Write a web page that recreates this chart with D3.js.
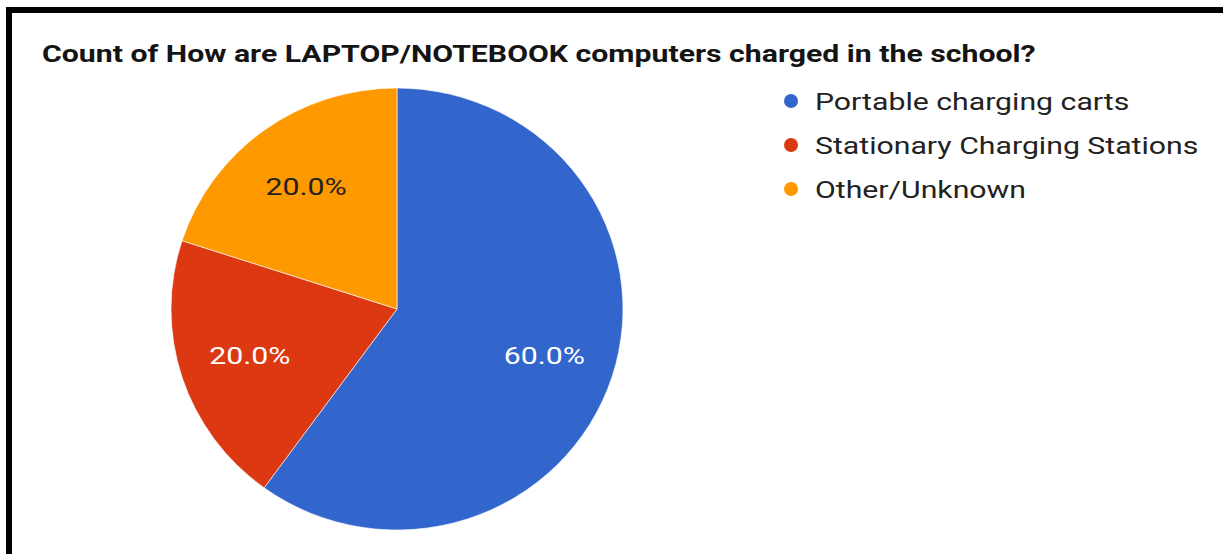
<!DOCTYPE html>
<html>
<head>
<meta charset="utf-8">
<script src="https://cdn.jsdelivr.net/npm/d3@7"></script>
<style>
  html, body { margin: 0; padding: 0; background: #fff; }
  svg { display: block; }
</style>
</head>
<body>
<svg id="chart" width="1223" height="554"></svg>
<script>
// Survey answers and their counts
const categories = ["Portable charging carts", "Stationary Charging Stations", "Other/Unknown"];
const shares = [60, 20, 20];
const colors = ["#3366cc", "#dc3912", "#ff9900"];
const labelColors = ["#ffffff", "#ffffff", "#222222"];
const titleText = "Count of How are LAPTOP/NOTEBOOK computers charged in the school?";

const FONT = "Roboto, Arial, sans-serif";
const WIDE = 1.26; // horizontal stretch applied to all text

const svg = d3.select("#chart");

// Frame lines along the top and left edges
svg.append("rect").attr("x", 6).attr("y", 7).attr("width", 1217).attr("height", 6).attr("fill", "#000");
svg.append("rect").attr("x", 6).attr("y", 7).attr("width", 6).attr("height", 547).attr("fill", "#000");

// Title
svg.append("text")
  .attr("transform", `translate(42,62) scale(${WIDE},1)`)
  .attr("font-family", FONT)
  .attr("font-weight", "bold")
  .attr("font-size", 24)
  .attr("fill", "#141414")
  .text(titleText);

// Pie
const cx = 397, cy = 309, rx = 226, ry = 221;
const pie = d3.pie().sort(null).value(d => d);
const arcs = pie(shares);
const arc = d3.arc().innerRadius(0).outerRadius(1);
const labelArc = d3.arc().innerRadius(0.685).outerRadius(0.685);
const total = d3.sum(shares);

const g = svg.append("g").attr("transform", `translate(${cx},${cy})`);
const slices = g.append("g").attr("transform", `scale(${rx},${ry})`);
slices.selectAll("path")
  .data(arcs)
  .join("path")
  .attr("d", arc)
  .attr("fill", (d, i) => colors[i])
  .attr("stroke", "#fff")
  .attr("stroke-width", 1 / rx)
  .attr("stroke-opacity", 0.6);

g.selectAll("text.pct")
  .data(arcs)
  .join("text")
  .attr("class", "pct")
  .attr("transform", d => {
    const [x, y] = labelArc.centroid(d);
    return `translate(${x * rx},${y * ry}) scale(${WIDE},1)`;
  })
  .attr("dy", "0.36em")
  .attr("text-anchor", "middle")
  .attr("font-family", FONT)
  .attr("font-size", 24)
  .attr("fill", (d, i) => labelColors[i])
  .text(d => (d.data / total * 100).toFixed(1) + "%");

// Legend
const legend = svg.append("g").attr("transform", "translate(791,101)");
const rows = legend.selectAll("g")
  .data(categories)
  .join("g")
  .attr("transform", (d, i) => `translate(0,${i * 44})`);
rows.append("circle").attr("r", 7).attr("fill", (d, i) => colors[i]);
rows.append("text")
  .attr("transform", `translate(24,0) scale(${WIDE},1)`)
  .attr("dy", "0.36em")
  .attr("font-family", FONT)
  .attr("font-size", 24)
  .attr("fill", "#222")
  .text(d => d);
</script>
</body>
</html>
